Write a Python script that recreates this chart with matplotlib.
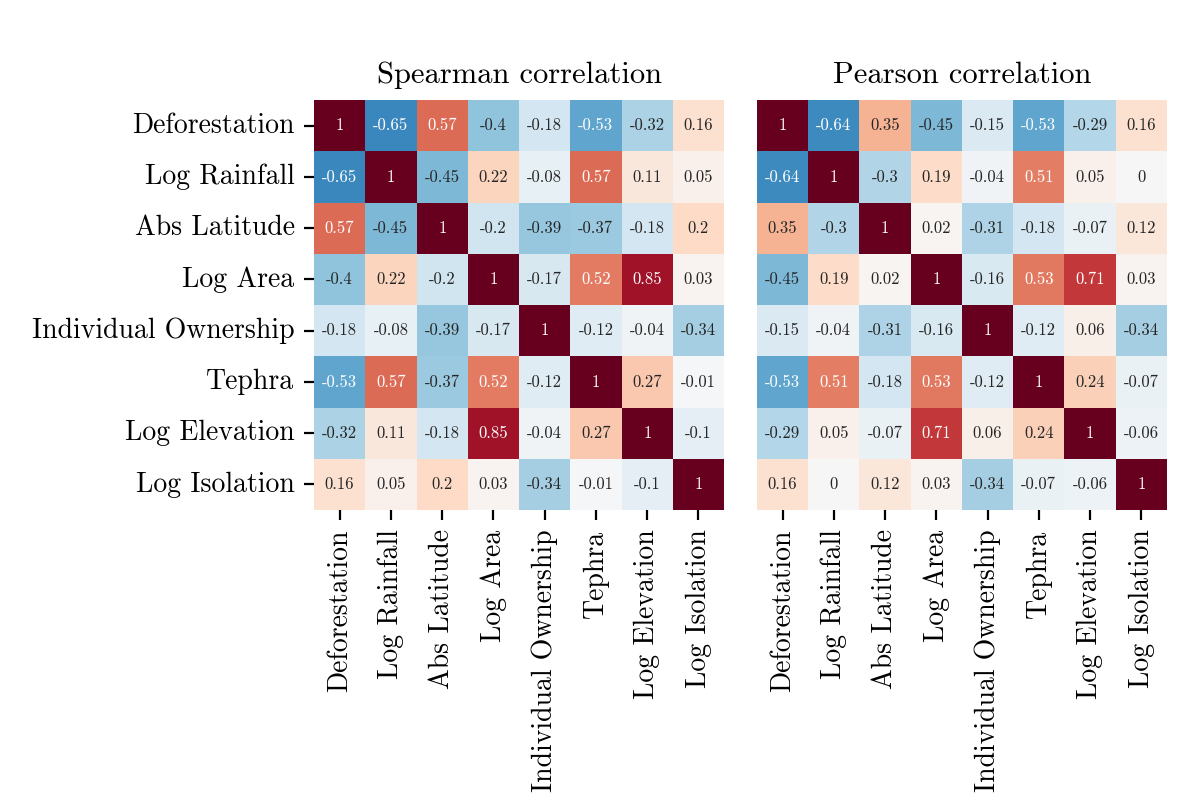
import numpy as np
import matplotlib
matplotlib.use("Agg")
import matplotlib.pyplot as plt
import seaborn as sns

plt.rcParams["font.family"] = "serif"
plt.rcParams["font.serif"] = ["cmr10", "DejaVu Serif"]
plt.rcParams["axes.unicode_minus"] = False

labels = ["Deforestation", "Log Rainfall", "Abs Latitude", "Log Area",
          "Individual Ownership", "Tephra", "Log Elevation", "Log Isolation"]

spearman = np.array([
    [1, -0.65, 0.57, -0.4, -0.18, -0.53, -0.32, 0.16],
    [-0.65, 1, -0.45, 0.22, -0.08, 0.57, 0.11, 0.05],
    [0.57, -0.45, 1, -0.2, -0.39, -0.37, -0.18, 0.2],
    [-0.4, 0.22, -0.2, 1, -0.17, 0.52, 0.85, 0.03],
    [-0.18, -0.08, -0.39, -0.17, 1, -0.12, -0.04, -0.34],
    [-0.53, 0.57, -0.37, 0.52, -0.12, 1, 0.27, -0.01],
    [-0.32, 0.11, -0.18, 0.85, -0.04, 0.27, 1, -0.1],
    [0.16, 0.05, 0.2, 0.03, -0.34, -0.01, -0.1, 1],
])

pearson = np.array([
    [1, -0.64, 0.35, -0.45, -0.15, -0.53, -0.29, 0.16],
    [-0.64, 1, -0.3, 0.19, -0.04, 0.51, 0.05, 0],
    [0.35, -0.3, 1, 0.02, -0.31, -0.18, -0.07, 0.12],
    [-0.45, 0.19, 0.02, 1, -0.16, 0.53, 0.71, 0.03],
    [-0.15, -0.04, -0.31, -0.16, 1, -0.12, 0.06, -0.34],
    [-0.53, 0.51, -0.18, 0.53, -0.12, 1, 0.24, -0.07],
    [-0.29, 0.05, -0.07, 0.71, 0.06, 0.24, 1, -0.06],
    [0.16, 0, 0.12, 0.03, -0.34, -0.07, -0.06, 1],
])

fig = plt.figure(figsize=(6, 4), dpi=200)
ax1 = fig.add_axes([0.2617, 0.3625, 0.3417, 0.5125])
ax2 = fig.add_axes([0.6308, 0.3625, 0.3417, 0.5125])

for ax, mat, title, show_y in [(ax1, spearman, "Spearman correlation", True),
                               (ax2, pearson, "Pearson correlation", False)]:
    sns.heatmap(mat, ax=ax, cmap="RdBu_r", vmin=-1, vmax=1, annot=True, fmt="g",
                annot_kws={"size": 6}, cbar=False, square=True,
                xticklabels=labels, yticklabels=labels if show_y else False)
    ax.set_title(title, fontsize=11)
    ax.tick_params(axis="x", labelrotation=90, labelsize=10)
    ax.tick_params(axis="y", labelrotation=0, labelsize=10)
    if not show_y:
        ax.set_yticks([])

fig.savefig("out.png", dpi=200)
